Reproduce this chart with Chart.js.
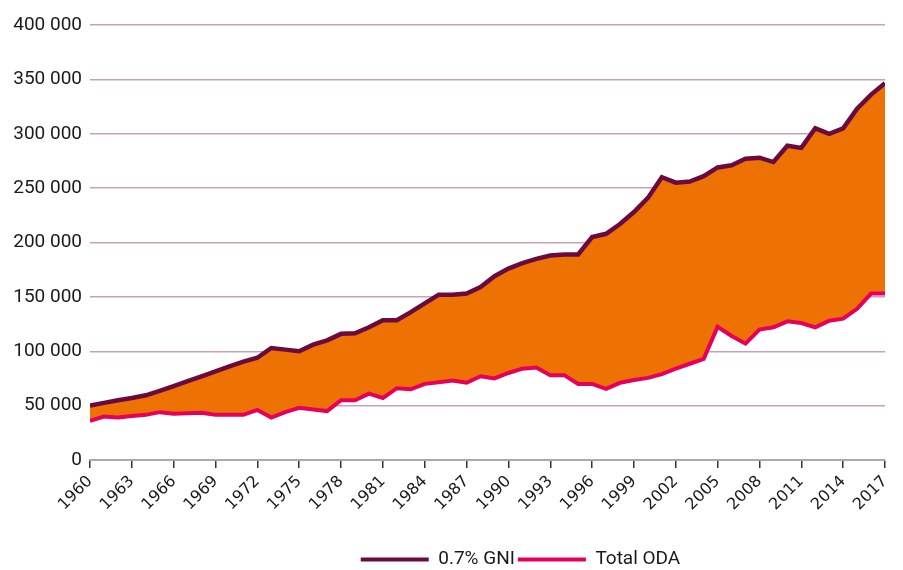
<!DOCTYPE html>
<html>
<head>
<meta charset="utf-8">
<script src="https://cdn.jsdelivr.net/npm/chart.js@4"></script>
<style>
  html, body { margin: 0; padding: 0; background: #fff; }
  #wrap { width: 903px; height: 570px; position: relative; }
</style>
</head>
<body>
<div id="wrap"><canvas id="chart"></canvas></div>
<script>
// years and series (USD millions)
const years = [];
for (let y = 1960; y <= 2017; y++) years.push(y);

const gniValues = [
  50000, 52500, 55000, 57000, 59500, 63500, 68000, 72500, 77000, 81500,
  86000, 90500, 94000, 103000, 101500, 100000, 106000, 110000, 116000, 116500,
  122000, 128500, 128500, 136000, 144000, 152000, 152000, 153000, 159000, 169000,
  176000, 181000, 185000, 188000, 189000, 189000, 205000, 208000, 217000, 228000,
  241000, 260000, 255000, 256000, 261000, 269000, 271000, 277000, 278000, 274000,
  289000, 287000, 305000, 300000, 305000, 323000, 336000, 346500
];

const odaValues = [
  36000, 40000, 39000, 40500, 41500, 44000, 42500, 43000, 43500, 41500,
  41500, 41500, 46000, 39000, 44000, 48000, 46500, 45000, 55000, 55000,
  61000, 57000, 66000, 65000, 70000, 71500, 73000, 71000, 77000, 75000,
  80000, 84000, 85000, 78000, 78000, 70000, 70000, 65500, 71000, 73500,
  75500, 79000, 84000, 88500, 93000, 122500, 114000, 107000, 120000, 122000,
  127500, 126000, 122000, 128000, 130000, 139000, 153000, 153000
];

const yTicks = [0, 50000, 100000, 150000, 200000, 250000, 300000, 350000, 400000];

const toPoints = vals => vals.map((v, i) => ({ x: years[i], y: v }));
const fmt = v => String(v).replace(/\B(?=(\d{3})+(?!\d))/g, ' ');

// legend sits a bit right of the page centre, and lower, in the original
const shiftLegend = {
  id: 'shiftLegend',
  afterLayout(chart) {
    const lg = chart.legend;
    if (lg) { lg.left += 78; lg.right += 78; lg.top += 9; lg.bottom += 9; }
  }
};

new Chart(document.getElementById('chart'), {
  type: 'line',
  data: {
    datasets: [
      {
        label: '0.7% GNI',
        data: toPoints(gniValues),
        borderColor: '#6b0a3e',
        backgroundColor: '#ee7203',
        borderWidth: 4.5,
        pointRadius: 0,
        tension: 0,
        fill: '+1'
      },
      {
        label: 'Total ODA',
        data: toPoints(odaValues),
        borderColor: '#e5005b',
        backgroundColor: '#e5005b',
        borderWidth: 4,
        pointRadius: 0,
        tension: 0,
        fill: false
      }
    ]
  },
  plugins: [shiftLegend],
  options: {
    responsive: true,
    maintainAspectRatio: false,
    animation: false,
    layout: { padding: { top: 25, right: 18, bottom: 0, left: 0 } },
    plugins: {
      filler: { drawTime: 'beforeDatasetsDraw' },
      tooltip: { enabled: false },
      legend: {
        position: 'bottom',
        labels: {
          boxWidth: 68,
          boxHeight: 4,
          padding: 3,
          color: '#1a1a1a',
          font: { family: 'Roboto', size: 19 },
          generateLabels: chart => chart.data.datasets.map((ds, i) => ({
            text: ds.label,
            fillStyle: ds.borderColor,
            strokeStyle: ds.borderColor,
            lineWidth: 0,
            datasetIndex: i,
            fontColor: '#1a1a1a'
          }))
        }
      }
    },
    scales: {
      x: {
        type: 'linear',
        min: 1960,
        max: 2017,
        afterFit: s => { s.height = 78; },
        ticks: {
          stepSize: 3,
          maxRotation: 45,
          minRotation: 45,
          padding: 4,
          color: '#1a1a1a',
          font: { family: 'DejaVu Sans', size: 16 },
          callback: v => String(v)
        },
        grid: { drawOnChartArea: false, drawTicks: true, tickLength: 8, color: '#333', lineWidth: 1.5 },
        border: { display: true, color: '#aaaaaa', width: 2 }
      },
      y: {
        min: 0,
        max: 400000,
        afterFit: s => { s.width = 90; },
        afterBuildTicks: s => { s.ticks = yTicks.map(v => ({ value: v })); },
        ticks: {
          padding: 8,
          color: '#1a1a1a',
          font: { family: 'Roboto', size: 19 },
          callback: v => fmt(v)
        },
        grid: {
          drawTicks: false,
          lineWidth: 1.5,
          color: c => c.tick.value === 0 ? 'rgba(0,0,0,0)' : '#c9a0b6'
        },
        border: { display: false }
      }
    }
  }
});
</script>
</body>
</html>
